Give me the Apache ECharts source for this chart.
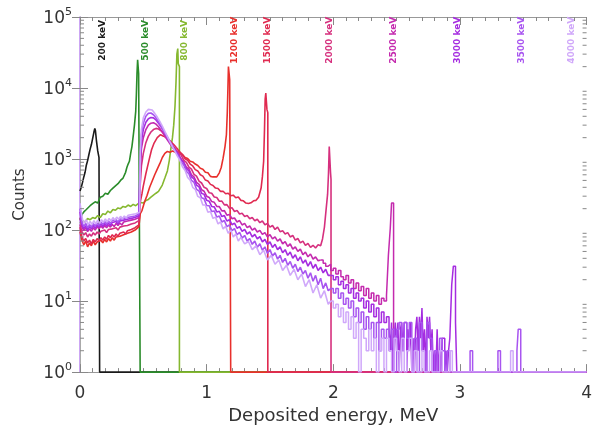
<!DOCTYPE html>
<html><head><meta charset="utf-8">
<script src="https://cdn.jsdelivr.net/npm/echarts/dist/echarts.min.js"></script>
<style>html,body{margin:0;padding:0;background:#fff}#c{width:595px;height:430px}</style>
</head><body><div id="c"></div>
<script>
// ---- data (energy MeV, counts) ----
const lineNames = ['200 keV','500 keV','800 keV','1200 keV','1500 keV','2000 keV','2500 keV','3000 keV','3500 keV','4000 keV'];
const lineColors = ['#1a1a1a','#2a8c2a','#86b830','#e8302c','#e02a50','#d6307e','#c42aae','#a52ce0','#a855f0','#d0a8fa'];
const labelEnergy = [0.18,0.52,0.83,1.22,1.48,1.97,2.48,2.98,3.49,3.88];
const xTicks = [0,1,2,3,4];

const s200 = [[0,355],[0.01,400],[0.02,470],[0.03,560],[0.04,650],[0.05,820],[0.06,950],[0.07,1150],[0.08,1380],[0.09,1600],[0.10,1950],[0.11,2400],[0.117,2700],[0.122,2500],[0.13,1800],[0.14,1300],[0.15,1050],[0.155,1000],[0.155,1],[4,1]];

const s500 = [[0,140],[0.015,165],[0.03,180],[0.05,195],[0.065,185],[0.08,220],[0.1,235],[0.12,250],[0.14,240],[0.16,290],[0.18,300],[0.2,330],[0.22,320],[0.24,360],[0.26,390],[0.28,420],[0.3,450],[0.32,500],[0.34,540],[0.36,650],[0.37,760],[0.38,850],[0.39,930],[0.40,1200],[0.41,1500],[0.42,2100],[0.43,3000],[0.44,4700],[0.445,8000],[0.45,16000],[0.455,25000],[0.46,25000],[0.463,16000],[0.475,15000],[0.475,1],[4,1]];

const s800 = [[0,125],[0.02,135],[0.04,130],[0.06,145],[0.08,140],[0.1,150],[0.12,145],[0.14,160],[0.16,150],[0.18,170],[0.2,165],[0.22,185],[0.24,175],[0.26,195],[0.28,190],[0.3,205],[0.32,200],[0.34,215],[0.36,210],[0.38,225],[0.40,215],[0.42,230],[0.44,220],[0.46,235],[0.48,245],[0.5,240],[0.52,260],[0.54,270],[0.56,290],[0.58,310],[0.6,330],[0.62,350],[0.65,430],[0.67,540],[0.69,680],[0.705,950],[0.715,1300],[0.73,2000],[0.74,3000],[0.75,5500],[0.758,12000],[0.765,30000],[0.772,36000],[0.776,22000],[0.785,20000],[0.785,1],[4,1]];

const s1200 = [[0,95],[0.015,72],[0.03,62],[0.045,70],[0.06,58],[0.075,66],[0.09,60],[0.105,70],[0.12,62],[0.135,68],[0.15,64],[0.165,72],[0.18,66],[0.195,74],[0.21,68],[0.225,76],[0.24,70],[0.255,78],[0.27,72],[0.285,80],[0.3,75],[0.315,82],[0.33,78],[0.345,86],[0.36,82],[0.375,90],[0.39,86],[0.405,94],[0.42,92],[0.435,100],[0.45,104],[0.465,112],[0.472,115],
 [0.476,170],[0.49,190],[0.51,250],[0.53,310],[0.55,400],[0.57,490],[0.59,600],[0.61,720],[0.63,860],[0.65,1050],[0.67,1200],[0.69,1280],[0.71,1250],[0.73,1300],[0.75,1260],[0.77,1280],
 [0.79,1210],[0.81,1150],[0.83,1050],[0.85,1020],[0.87,930],[0.89,910],[0.91,850],[0.93,810],[0.95,740],[0.97,720],[0.99,650],[1.01,640],[1.03,570],[1.05,560],[1.065,530],[1.08,560],[1.10,640],[1.115,760],[1.13,1030],[1.145,1500],[1.156,2200],[1.163,4500],[1.168,10000],[1.172,20000],[1.178,21000],[1.182,13000],[1.19,12500],[1.19,1],[4,1]];

const s1500 = [[0,110],[0.015,80],[0.03,70],[0.045,76],[0.06,66],[0.075,72],[0.09,64],[0.105,74],[0.12,68],[0.135,76],[0.15,70],[0.165,78],[0.18,72],[0.195,80],[0.21,74],[0.225,84],[0.24,78],[0.255,86],[0.27,80],[0.285,88],[0.3,82],[0.315,90],[0.33,86],[0.345,94],[0.36,88],[0.375,98],[0.39,94],[0.405,102],[0.42,98],[0.435,108],[0.45,110],[0.465,118],[0.472,120],
 [0.476,250],[0.49,330],[0.5,420],[0.52,620],[0.546,980],[0.565,1350],[0.585,1680],[0.61,2000],[0.636,2200],[0.66,2100],[0.68,2000],[0.7,1880],[0.72,1740],[0.74,1600],[0.76,1450],[0.775,1350],
 [0.79,1260],[0.81,1150],[0.83,1010],[0.85,960],[0.87,850],[0.89,800],[0.91,710],[0.93,680],[0.95,600],[0.97,575],[0.99,505],[1.01,490],[1.03,440],[1.05,425],[1.07,390],[1.09,385],[1.11,350],[1.13,352],[1.15,325],[1.17,330],[1.19,305],[1.21,310],[1.23,285],[1.25,292],[1.27,262],[1.29,258],[1.31,240],[1.33,236],[1.35,242],[1.37,258],[1.39,262],[1.41,290],[1.43,390],[1.44,560],[1.45,930],[1.457,2700],[1.462,7000],[1.467,8500],[1.472,8200],[1.476,5000],[1.483,4500],[1.483,1],[4,1]];

const s2000 = [[0,120],[0.015,95],[0.03,85],[0.045,92],[0.06,80],[0.075,88],[0.09,82],[0.105,92],[0.12,85],[0.135,94],[0.15,88],[0.165,96],[0.18,90],[0.195,100],[0.21,92],[0.225,102],[0.24,96],[0.255,104],[0.27,98],[0.285,108],[0.3,100],[0.315,110],[0.33,104],[0.345,114],[0.36,108],[0.375,116],[0.39,112],[0.405,122],[0.42,118],[0.435,126],[0.45,128],[0.465,136],[0.472,140],
 [0.476,450],[0.485,800],[0.5,1200],[0.52,1700],[0.54,2100],[0.56,2400],[0.58,2600],[0.6,2700],[0.62,2650],[0.64,2500],[0.66,2300],[0.68,2050],[0.7,1850],[0.72,1650],[0.74,1480],[0.76,1340],
 [0.78,1220],[0.80,1130],[0.82,960],[0.84,900],[0.86,770],[0.88,720],[0.90,610],[0.92,575],[0.94,490],[0.96,460],[0.98,400],[1.00,385],[1.02,335],[1.04,330],[1.06,292],[1.08,288],[1.10,255],[1.12,256],[1.14,226],[1.16,228],[1.18,202],[1.20,206],[1.22,183],[1.24,188],[1.26,168],[1.28,172],[1.30,155],[1.32,160],[1.34,144],[1.36,150],[1.38,135],[1.40,142],[1.42,127],[1.44,134],[1.46,119],[1.48,124],[1.50,110],[1.52,116],[1.54,102],[1.56,110],[1.58,95],[1.60,98],[1.62,88],[1.64,92],[1.66,80],[1.68,84],[1.70,72],[1.72,76],[1.74,66],[1.76,70],[1.78,61],[1.80,65],[1.82,57],[1.84,61],[1.86,56],[1.88,62],[1.90,60],[1.915,75],[1.93,110],[1.945,210],[1.955,320],[1.962,620],[1.968,1500],[1.976,1500],[1.978,650],[1.982,520],[1.982,1],[4,1]];

const s2500 = [[0,150],[0.015,110],[0.03,98],[0.045,108],[0.06,95],[0.075,104],[0.09,96],[0.105,108],[0.12,100],[0.135,112],[0.15,104],[0.165,114],[0.18,106],[0.195,116],[0.21,108],[0.225,118],[0.24,110],[0.255,120],[0.27,112],[0.285,124],[0.3,116],[0.315,126],[0.33,118],[0.345,130],[0.36,122],[0.375,134],[0.39,126],[0.405,138],[0.42,132],[0.435,142],[0.45,144],[0.465,150],[0.472,155],
 [0.476,700],[0.485,1400],[0.5,2000],[0.52,2600],[0.54,3000],[0.56,3200],[0.58,3250],[0.6,3100],[0.62,2850],[0.64,2550],[0.66,2250],[0.68,1980],[0.7,1750],[0.72,1550],[0.74,1380],[0.76,1250],
 [0.78,1130],[0.80,990],[0.82,900],[0.84,770],[0.86,720],[0.88,600],[0.90,560],[0.92,470],[0.94,440],[0.96,370],[0.98,352],[1.00,300],[1.02,288],[1.04,252],[1.06,246],[1.08,215],[1.10,214],[1.12,186],[1.14,188],[1.16,162],[1.18,166],[1.20,145],[1.22,148],[1.24,130],[1.26,136],[1.28,118],[1.30,124],[1.32,108],[1.34,114],[1.36,100],[1.38,106],[1.40,94],[1.42,99],[1.44,87],[1.46,92],[1.48,80],[1.50,86],[1.52,75],[1.54,80],[1.56,70],[1.58,75],[1.60,64],[1.62,69],[1.64,59],[1.66,64],[1.68,54],[1.70,58],[1.72,50],[1.74,54],[1.76,45],[1.78,49],[1.80,42],[1.82,46],[1.84,39],[1.86,42],[1.88,37],[1.90,38]];
const t2500 = [[1.90,38],[1.92,34],[1.94,31],[1.96,33],[1.98,27],[2.00,29],[2.02,24],[2.04,27],[2.06,22],[2.08,20],[2.10,23],[2.12,18],[2.14,20],[2.16,15],[2.18,18],[2.20,14],[2.22,16],[2.24,12],[2.26,15],[2.28,11],[2.30,13],[2.32,10],[2.34,12],[2.36,9],[2.38,11],[2.40,10],[2.42,12],[2.435,44],[2.45,107],[2.46,240],[2.476,1],[4,1]];

const s3000 = [[0,180],[0.015,120],[0.03,105],[0.045,115],[0.06,100],[0.075,112],[0.09,104],[0.105,116],[0.12,106],[0.135,118],[0.15,110],[0.165,122],[0.18,112],[0.195,124],[0.21,114],[0.225,126],[0.24,116],[0.255,128],[0.27,120],[0.285,132],[0.3,122],[0.315,134],[0.33,126],[0.345,138],[0.36,130],[0.375,142],[0.39,134],[0.405,146],[0.42,140],[0.435,150],[0.45,152],[0.465,160],[0.472,165],
 [0.476,900],[0.485,1800],[0.5,2600],[0.52,3300],[0.54,3700],[0.56,3850],[0.58,3800],[0.6,3550],[0.62,3200],[0.64,2850],[0.66,2500],[0.68,2180],[0.7,1900],[0.72,1660],[0.74,1450],[0.76,1280],
 [0.78,1130],[0.80,970],[0.82,880],[0.84,730],[0.86,680],[0.88,560],[0.90,525],[0.92,430],[0.94,405],[0.96,330],[0.98,318],[1.00,262],[1.02,255],[1.04,215],[1.06,212],[1.08,180],[1.10,184],[1.12,155],[1.14,160],[1.16,134],[1.18,140],[1.20,119],[1.22,125],[1.24,106],[1.26,112],[1.28,96],[1.30,102],[1.32,88],[1.34,94],[1.36,80],[1.38,87],[1.40,75],[1.42,81],[1.44,68],[1.46,74],[1.48,63],[1.50,68],[1.52,57],[1.54,63],[1.56,53],[1.58,58],[1.60,48],[1.62,53],[1.64,44],[1.66,49],[1.68,40],[1.70,45],[1.72,37],[1.74,42],[1.76,34],[1.78,38],[1.80,31],[1.82,36],[1.84,29],[1.86,33],[1.88,27],[1.90,30],[1.92,25],[1.94,28],[1.96,23],[1.98,23]];
const t3000 = [[1.98,23],[2.00,20],[2.02,22],[2.04,17],[2.06,19],[2.08,15],[2.10,17],[2.12,13],[2.14,15],[2.16,11],[2.18,13],[2.20,10],[2.22,11],[2.24,8],[2.26,10],[2.28,7],[2.30,9],[2.32,6],[2.34,8],[2.36,5],[2.38,7],[2.40,5],[2.42,6],
 [2.44,4],[2.45,2],[2.46,5],[2.47,1],[2.48,3],[2.49,5],[2.50,2],[2.51,5],[2.52,1],[2.53,4],[2.54,5],[2.55,2],[2.56,5],[2.57,5],[2.58,1],[2.59,4],[2.60,2],[2.61,5],[2.62,1],[2.63,3],[2.64,1],[2.65,4],[2.66,6],[2.67,2],[2.68,6],[2.69,3],[2.70,8],[2.71,2],[2.72,4],[2.73,1],[2.74,6],[2.75,3],[2.76,6],[2.77,2],[2.78,4],[2.79,1],[2.80,2],[2.81,1],[2.82,4],[2.83,1],[2.84,2],[2.85,1],[2.86,3],[2.87,3],[2.88,1],[2.89,2],[2.90,1],[2.91,2],[2.92,3],[2.935,17],[2.948,31],[2.965,5],[2.975,1],[4,1]];

const s3500 = [[0,200],[0.015,130],[0.03,112],[0.045,124],[0.06,108],[0.075,120],[0.09,110],[0.105,124],[0.12,114],[0.135,126],[0.15,116],[0.165,130],[0.18,120],[0.195,132],[0.21,122],[0.225,134],[0.24,124],[0.255,136],[0.27,128],[0.285,140],[0.3,130],[0.315,142],[0.33,134],[0.345,146],[0.36,138],[0.375,150],[0.39,142],[0.405,154],[0.42,148],[0.435,158],[0.45,160],[0.465,168],[0.472,172],
 [0.476,1100],[0.485,2200],[0.5,3200],[0.52,4000],[0.54,4400],[0.56,4450],[0.58,4200],[0.6,3800],[0.62,3350],[0.64,2900],[0.66,2500],[0.68,2150],[0.7,1850],[0.72,1600],[0.74,1400],[0.76,1220],
 [0.78,1070],[0.80,900],[0.82,820],[0.84,670],[0.86,620],[0.88,500],[0.90,470],[0.92,375],[0.94,355],[0.96,285],[0.98,275],[1.00,222],[1.02,220],[1.04,182],[1.06,186],[1.08,152],[1.10,158],[1.12,130],[1.14,136],[1.16,112],[1.18,118],[1.20,98],[1.22,105],[1.24,86],[1.26,93],[1.28,77],[1.30,84],[1.32,70],[1.34,76],[1.36,63],[1.38,70],[1.40,57],[1.42,64],[1.44,52],[1.46,58],[1.48,47],[1.50,53],[1.52,43],[1.54,48],[1.56,39],[1.58,44],[1.60,35],[1.62,40],[1.64,32],[1.66,36],[1.68,29],[1.70,33],[1.72,26],[1.74,30],[1.76,24],[1.78,27],[1.80,21],[1.82,25],[1.84,19],[1.86,23],[1.88,17],[1.90,21],[1.92,15],[1.94,18],[1.96,14],[1.98,15]];
const t3500 = [[1.98,15],[2.00,13],[2.02,15],[2.04,11],[2.06,13],[2.08,9],[2.10,11],[2.12,8],[2.14,10],[2.16,6],[2.18,8],[2.20,5],[2.22,7],[2.24,4],[2.26,6],[2.28,4],[2.30,5],[2.32,3],[2.34,5],[2.36,2],[2.38,4],[2.40,3],[2.42,4],[2.44,2],[2.46,4],[2.48,1],[2.50,4],[2.52,5],[2.54,2],[2.56,5],[2.58,3],[2.60,5],[2.62,1],[2.64,3],[2.66,1],[2.68,5],[2.70,2],[2.72,1],[2.74,5],[2.76,3],[2.78,1],[2.80,2],[2.82,1],[2.84,3],[2.86,2],[2.88,1],[2.90,2],[2.92,1],[3.08,2],[3.10,1],[3.30,2],[3.32,1],[3.45,2],[3.46,4],[3.48,1],[4,1]];

const s4000 = [[0,240],[0.01,180],[0.02,140],[0.035,125],[0.05,140],[0.065,118],[0.08,132],[0.095,120],[0.11,136],[0.125,122],[0.14,138],[0.155,124],[0.17,140],[0.185,128],[0.2,144],[0.215,130],[0.23,146],[0.245,134],[0.26,150],[0.275,138],[0.29,152],[0.305,142],[0.32,156],[0.335,144],[0.35,158],[0.365,148],[0.38,162],[0.395,152],[0.41,166],[0.425,158],[0.44,170],[0.455,172],[0.472,178],
 [0.476,1300],[0.485,2600],[0.5,3800],[0.52,4600],[0.54,5000],[0.555,5100],[0.57,4900],[0.59,4400],[0.61,3900],[0.63,3400],[0.65,2900],[0.67,2450],[0.69,2080],[0.71,1760],[0.73,1500],[0.75,1280],[0.77,1090],
 [0.79,950],[0.81,770],[0.83,690],[0.85,550],[0.87,505],[0.89,400],[0.91,375],[0.93,298],[0.95,285],[0.97,226],[0.99,225],[1.01,178],[1.03,182],[1.05,146],[1.07,152],[1.09,122],[1.11,130],[1.13,104],[1.15,113],[1.17,90],[1.19,100],[1.21,80],[1.23,88],[1.25,70],[1.27,79],[1.30,64],[1.33,69],[1.36,53],[1.39,60],[1.42,45],[1.45,52],[1.48,38],[1.51,44],[1.54,33],[1.57,38],[1.60,27],[1.63,32],[1.66,23],[1.69,28],[1.72,20],[1.75,24],[1.78,16],[1.81,20],[1.84,13],[1.87,17],[1.90,11],[1.93,14],[1.96,9],[1.98,10]];
const t4000 = [[1.98,10],[2.00,8],[2.02,9],[2.04,6],[2.06,8],[2.08,5],[2.10,7],[2.12,4],[2.14,6],[2.16,3],[2.18,5],[2.20,1],[2.22,4],[2.24,3],[2.26,2],[2.28,4],[2.30,2],[2.32,3],[2.34,1],[2.36,2],[2.38,3],[2.40,1],[2.42,3],[2.44,2],[2.46,1],[2.48,3],[2.50,2],[2.52,1],[2.54,3],[2.56,1],[2.58,2],[2.60,3],[2.62,1],[2.64,2],[2.66,1],[2.70,2],[2.72,1],[2.76,2],[2.78,1],[2.84,2],[2.86,1],[2.92,2],[2.94,1],[3.40,2],[3.42,1],[4,1]];

const spectra = [s200,s500,s800,s1200,s1500,s2000,s2500,s3000,s3500,s4000];
const tails = [null,null,null,null,null,null,t2500,t3000,t3500,t4000];

// ---- chart ----
const FONT = 'DejaVu Sans';
const chart = echarts.init(document.getElementById('c'), null, {renderer:'canvas'});
const series = [];
spectra.forEach((d,i)=>{
  series.push({type:'line', data:d, symbol:'none', showSymbol:false, silent:true, animation:false,
    lineStyle:{color:lineColors[i], width:1.6}, z:2+i});
  if (tails[i]) series.push({type:'line', step:'end', data:tails[i], symbol:'none', showSymbol:false, silent:true, animation:false,
    lineStyle:{color:lineColors[i], width:1.5}, z:2+i});
});
const baseX = {type:'value', min:0, max:4, interval:1,
  axisTick:{inside:true, length:8, lineStyle:{color:'#888'}},
  minorTick:{show:true, splitNumber:10, length:4, lineStyle:{color:'#888'}},
  splitLine:{show:false}};
const option = {
  backgroundColor:'#fff',
  animation:false,
  grid:{left:80, right:3, top:17, bottom:56},
  xAxis:[
    Object.assign({}, baseX, {position:'bottom',
      axisLine:{lineStyle:{color:'#999', width:1}},
      axisLabel:{fontFamily:FONT, fontSize:17, color:'#333', margin:13,
        formatter:v=> xTicks.indexOf(v)>=0 ? String(v) : ''},
      name:'Deposited energy, MeV', nameLocation:'middle', nameGap:33,
      nameTextStyle:{fontFamily:FONT, fontSize:18, color:'#333'}}),
    Object.assign({}, baseX, {position:'top',
      axisLine:{lineStyle:{color:'#999', width:1}}, axisLabel:{show:false}})
  ],
  yAxis:[
    {type:'log', logBase:10, min:1, max:100000, position:'left',
      axisLine:{show:true, lineStyle:{color:'#bb88f0', width:1.5}},
      axisTick:{show:true, inside:true, length:8, lineStyle:{color:'#888'}},
      splitLine:{show:false},
      axisLabel:{margin:8, formatter:v=>'{b|10}{s|'+Math.round(Math.log10(v))+'}',
        rich:{b:{fontFamily:FONT, fontSize:17, color:'#333', lineHeight:20, verticalAlign:'bottom'},
              s:{fontFamily:FONT, fontSize:11, color:'#333', lineHeight:20, verticalAlign:'top'}}},
      name:'Counts', nameLocation:'middle', nameGap:52,
      nameTextStyle:{fontFamily:FONT, fontSize:15, color:'#333'}},
    {type:'log', logBase:10, min:1, max:100000, position:'right',
      axisLine:{show:true, lineStyle:{color:'#aaa', width:1}},
      axisTick:{show:true, inside:true, length:8, lineStyle:{color:'#888'}},
      splitLine:{show:false}, axisLabel:{show:false}}
  ],
  series: series
};
chart.setOption(option);

// energy labels and log minor ticks, placed through the axes' own scales
const gfx = [];
const x0 = chart.convertToPixel({xAxisIndex:0}, 0);
const x4 = chart.convertToPixel({xAxisIndex:0}, 4);
for (let k=0;k<5;k++){
  for (let m=2;m<=9;m++){
    const y = chart.convertToPixel({yAxisIndex:0}, m*Math.pow(10,k));
    gfx.push({type:'line', shape:{x1:x0, y1:y, x2:x0+4, y2:y}, style:{stroke:'#888', lineWidth:1}, silent:true, z:50});
    gfx.push({type:'line', shape:{x1:x4, y1:y, x2:x4-4, y2:y}, style:{stroke:'#888', lineWidth:1}, silent:true, z:50});
  }
}
const labelLevel = 47000;
labelEnergy.forEach((e,i)=>{
  const p = chart.convertToPixel({xAxisIndex:0, yAxisIndex:0}, [e, labelLevel]);
  gfx.push({type:'text', x:p[0], y:p[1], rotation:Math.PI/2, silent:true, z:60,
    style:{text:lineNames[i], fill:lineColors[i], font:'bold 9px "DejaVu Sans"', align:'center', verticalAlign:'middle'}});
});
chart.setOption({graphic:{elements:gfx}});
</script>
</body></html>
